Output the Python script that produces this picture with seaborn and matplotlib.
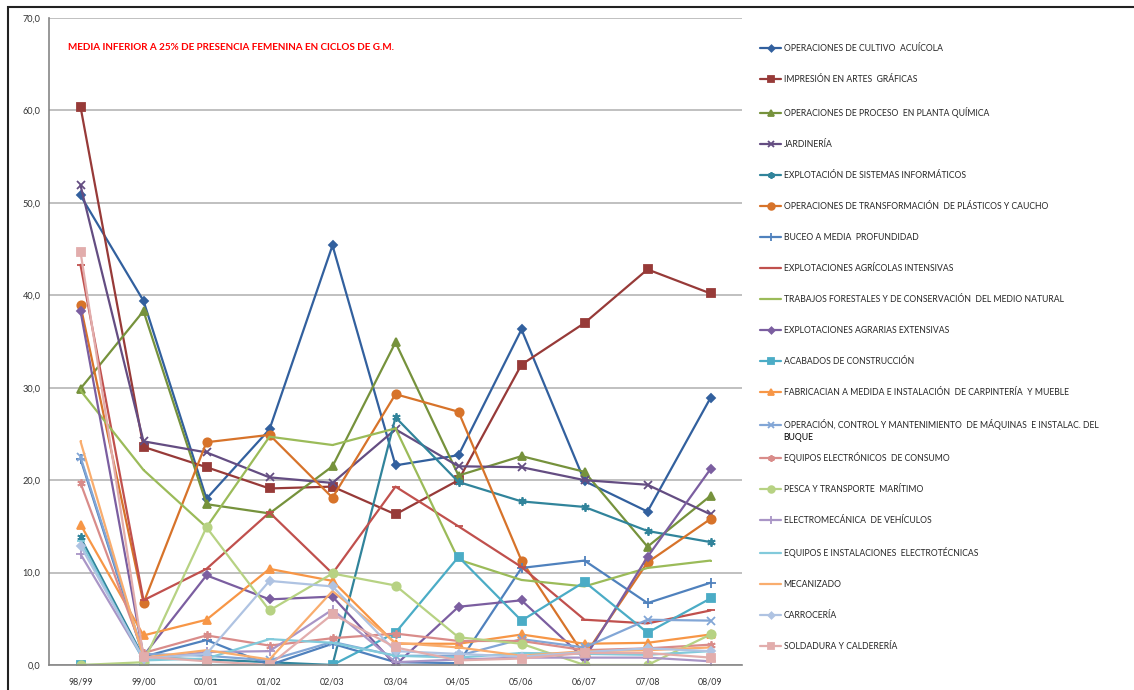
import matplotlib
matplotlib.use("Agg")
import matplotlib.pyplot as plt
import seaborn as sns
import pandas as pd
from matplotlib.patches import Rectangle

# %% data
cursos = ['98/99', '99/00', '00/01', '01/02', '02/03', '03/04', '04/05', '05/06', '06/07', '07/08', '08/09']
ciclos = ['OPERACIONES DE CULTIVO  ACUÍCOLA',
          'IMPRESIÓN EN ARTES  GRÁFICAS',
          'OPERACIONES DE PROCESO  EN PLANTA QUÍMICA',
          'JARDINERÍA',
          'EXPLOTACIÓN DE SISTEMAS INFORMÁTICOS',
          'OPERACIONES DE TRANSFORMACIÓN  DE PLÁSTICOS Y CAUCHO',
          'BUCEO A MEDIA  PROFUNDIDAD',
          'EXPLOTACIONES AGRÍCOLAS INTENSIVAS',
          'TRABAJOS FORESTALES Y DE CONSERVACIÓN  DEL MEDIO NATURAL',
          'EXPLOTACIONES AGRARIAS EXTENSIVAS',
          'ACABADOS DE CONSTRUCCIÓN',
          'FABRICACIAN A MEDIDA E INSTALACIÓN  DE CARPINTERÍA  Y MUEBLE',
          'OPERACIÓN, CONTROL Y MANTENIMIENTO  DE MÁQUINAS  E INSTALAC. DEL',
          'EQUIPOS ELECTRÓNICOS  DE CONSUMO',
          'PESCA Y TRANSPORTE  MARÍTIMO',
          'ELECTROMECÁNICA  DE VEHÍCULOS',
          'EQUIPOS E INSTALACIONES  ELECTROTÉCNICAS',
          'MECANIZADO',
          'CARROCERÍA',
          'SOLDADURA Y CALDERERÍA']
ciclo13_resto = 'BUQUE'  # second line of the 13th legend label

acuicola = [50.8, 39.4, 18.0, 25.5, 45.4, 21.6, 22.7, 36.3, 19.9, 16.6, 28.9]
graficas = [60.4, 23.6, 21.4, 19.1, 19.3, 16.3, 20.0, 32.5, 37.0, 42.8, 40.2]
quimica = [29.9, 38.3, 17.4, 16.4, 21.5, 34.9, 20.5, 22.6, 20.9, 12.8, 18.3]
jardineria = [51.9, 24.2, 23.0, 20.3, 19.7, 25.5, 21.5, 21.4, 20.0, 19.5, 16.3]
informaticos = [13.8, 0.8, 0.6, 0.3, 0.0, 26.8, 19.8, 17.7, 17.1, 14.5, 13.3]
plasticos = [38.9, 6.7, 24.1, 24.9, 18.1, 29.3, 27.4, 11.3, 1.0, 11.1, 15.8]
buceo = [22.3, 0.9, 2.7, 0.0, 2.3, 0.3, 0.2, 10.5, 11.3, 6.7, 8.9]
intensivas = [43.3, 7.0, 10.4, 16.5, 9.9, 19.3, 15.0, 10.6, 4.9, 4.5, 5.9]
forestales = [29.7, 21.1, 14.9, 24.7, 23.8, 25.6, 11.4, 9.2, 8.5, 10.5, 11.3]
extensivas = [38.3, 1.0, 9.7, 7.1, 7.4, 0.0, 6.3, 7.0, 0.7, 11.7, 21.2]
acabados = [0.0, 0.0, 0.0, 0.0, 0.0, 3.5, 11.7, 4.8, 9.0, 3.5, 7.2]
carpinteria = [15.2, 3.2, 4.9, 10.4, 9.1, 2.3, 2.3, 3.3, 2.3, 2.4, 3.3]
buque = [22.5, 1.2, 1.0, 0.5, 2.5, 1.0, 1.0, 2.8, 1.9, 4.9, 4.8]
consumo = [19.7, 1.3, 3.2, 2.1, 2.9, 3.4, 2.6, 2.6, 1.6, 1.8, 2.2]
pesca = [0.0, 0.3, 14.9, 5.9, 9.9, 8.6, 3.0, 2.3, 0.0, 0.0, 3.3]
electromecanica = [12.0, 0.6, 1.4, 1.5, 6.0, 0.3, 0.6, 0.8, 0.8, 0.8, 0.4]
electrotecnicas = [13.4, 0.5, 0.7, 2.8, 2.4, 1.0, 0.8, 1.3, 1.2, 1.1, 1.5]
mecanizado = [24.2, 0.8, 1.6, 0.6, 8.0, 2.4, 1.9, 1.0, 1.5, 1.6, 1.9]
carroceria = [12.9, 0.7, 1.2, 9.1, 8.5, 1.5, 1.2, 0.9, 1.4, 1.8, 1.5]
soldadura = [44.7, 0.9, 0.4, 0.0, 5.5, 1.9, 0.5, 0.7, 1.3, 1.3, 0.8]

series = [acuicola, graficas, quimica, jardineria, informaticos, plasticos, buceo, intensivas,
          forestales, extensivas, acabados, carpinteria, buque, consumo, pesca, electromecanica,
          electrotecnicas, mecanizado, carroceria, soldadura]

colores = ['#32609E', '#973A38', '#76923C', '#644D82', '#31849B', '#D7732A', '#4F81BD', '#C0504D',
           '#9BBB59', '#7B5EA0', '#4BACC6', '#F79646', '#82A6D6', '#D98C8A', '#B7D283', '#A995C6',
           '#82CADB', '#F9AD6E', '#AFC3E2', '#E2ADAC']
marcas = ['D', 's', '^', 'x', (6, 2, 0), 'o', '+', '_', '_', 'D', 's', '^', 'x', (6, 2, 0), 'o', '+',
          '_', '_', 'D', 's']
tam = [4, 6, 6, 6, 6, 6, 7, 6, 2, 4, 6, 6, 6, 6, 6, 7, 6, 2, 4, 6]

# %% plot
sns.set_style("white")
plt.rcParams['font.family'] = ['Lato', 'DejaVu Sans']
fig = plt.figure(figsize=(11.34, 6.9), dpi=100)
ax = fig.add_axes([49/1134, 25/690, 693/1134, 647/690])
for s, c, m, t, nom in zip(series, colores, marcas, tam, ciclos):
    sns.lineplot(x=cursos, y=s, color=c, marker=m, markersize=t, markeredgecolor=c,
                 markeredgewidth=1.3, linewidth=1.6, label=nom, ax=ax)

ax.set_xlim(-0.5, 10.5)
ax.set_ylim(0, 70)
ax.set_yticks(range(0, 71, 10))
ax.set_yticklabels([f"{v},0" for v in range(0, 71, 10)], fontsize=6.6, color='#333333')
ax.set_xticks(range(len(cursos)))
ax.set_xticklabels(cursos, fontsize=6.4, color='#333333')
ax.set_xticks([i - 0.5 for i in range(len(cursos) + 1)], minor=True)
ax.tick_params(axis='x', which='major', length=0, pad=9)
ax.tick_params(axis='x', which='minor', length=4, color='#868686', width=1)
ax.tick_params(axis='y', length=3, color='#868686', pad=3)
ax.grid(axis='y', color='#C0C0C0', linewidth=1.4)
for lado in ['top', 'right']:
    ax.spines[lado].set_visible(False)
ax.spines['left'].set_color('#868686')
ax.spines['bottom'].set_color('#868686')
ax.spines['left'].set_linewidth(1.2)
ax.spines['bottom'].set_linewidth(1.2)
ax.set_axisbelow(True)

ax.text(0.028, 0.955, 'MEDIA INFERIOR A 25% DE PRESENCIA FEMENINA EN CICLOS DE G.M.',
        transform=ax.transAxes, color='#FF0000', fontsize=7.1, fontweight='bold', va='center')

leg = ax.legend(loc='upper left', bbox_to_anchor=(757/1134, 1 - 41/690), bbox_transform=fig.transFigure,
                frameon=False, fontsize=6.2, handlelength=2.4, handletextpad=0.3, labelspacing=2.56,
                markerscale=0.8, borderaxespad=0)

# wrapped second line of the long label, under its first line
fig.canvas.draw()
bb = leg.get_texts()[12].get_window_extent().transformed(fig.transFigure.inverted())
fig.text(bb.x0, bb.y0 - 0.005, ciclo13_resto, fontsize=6.2, va='top', ha='left', color='#000000')

fig.patches.append(Rectangle((8/1134, -0.1), 1.2, 1.1 - 7/690, transform=fig.transFigure,
                             fill=False, edgecolor='#222222', linewidth=1.5))
fig.savefig('out.png', dpi=100)
